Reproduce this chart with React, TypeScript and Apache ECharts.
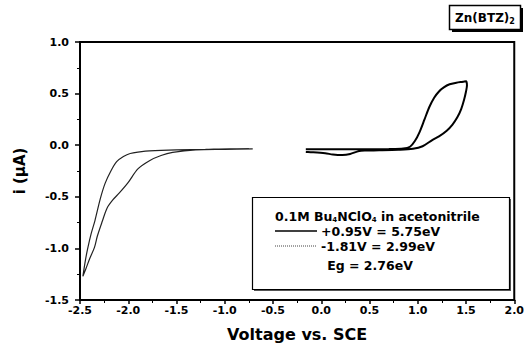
import React, { useEffect, useRef } from "react";
import * as echarts from "echarts";

// Reduction scan (V vs SCE, current in µA)
const reductionV = [-0.71, -1.0, -1.3, -1.54, -1.66, -1.78, -1.9, -2.0, -2.09, -2.16, -2.22, -2.27, -2.32, -2.35, -2.4, -2.44, -2.47, -2.445, -2.42, -2.385, -2.345, -2.29, -2.24, -2.18, -2.12, -2.05, -1.98, -1.88, -1.78, -1.5, -1.2, -0.95, -0.75];
const reductionI = [-0.035, -0.04, -0.045, -0.07, -0.1, -0.15, -0.23, -0.36, -0.46, -0.53, -0.61, -0.74, -0.88, -0.99, -1.1, -1.2, -1.27, -1.12, -1.0, -0.86, -0.73, -0.52, -0.37, -0.25, -0.16, -0.11, -0.08, -0.065, -0.055, -0.045, -0.04, -0.035, -0.035];

// Oxidation scan
const oxidationV = [-0.16, 0.1, 0.4, 0.7, 0.85, 0.92, 0.97, 1.02, 1.07, 1.12, 1.17, 1.22, 1.27, 1.33, 1.4, 1.47, 1.5, 1.51, 1.5, 1.48, 1.45, 1.41, 1.36, 1.3, 1.22, 1.15, 1.05, 0.95, 0.8, 0.6, 0.45, 0.38, 0.3, 0.22, 0.12, 0.04, -0.16];
const oxidationI = [-0.04, -0.04, -0.04, -0.038, -0.033, -0.015, 0.04, 0.13, 0.25, 0.37, 0.46, 0.52, 0.56, 0.59, 0.605, 0.615, 0.62, 0.58, 0.52, 0.44, 0.35, 0.27, 0.2, 0.14, 0.085, 0.05, -0.01, -0.035, -0.045, -0.05, -0.052, -0.06, -0.085, -0.095, -0.09, -0.078, -0.065];

// Axis ticks
const xMin = -2.5, xMax = 2.0, xStep = 0.5;
const yMin = -1.5, yMax = 1.0, yStep = 0.5;

const titleText = "Zn(BTZ){sub|2}";
const legendHeader = "0.1M Bu{sub|4}NClO{sub|4} in acetonitrile";
const legendOx = "+0.95V = 5.75eV";
const legendRed = "-1.81V = 2.99eV";
const legendGap = "Eg = 2.76eV";

const FONT = "DejaVu Sans";

export default function App() {
  const ref = useRef<HTMLDivElement>(null);
  useEffect(() => {
    if (!ref.current) return;
    const chart = echarts.init(ref.current, undefined, { renderer: "svg" });
    const pair = (xs: number[], ys: number[]) => xs.map((x, i) => [x, ys[i]]);
    const subStyle = { fontSize: 8, fontFamily: FONT, fontWeight: "bold", fill: "#000", padding: [7, 0, 0, 0] };
    chart.setOption({
      animation: false,
      backgroundColor: "#fff",
      grid: { left: 80, right: 12, top: 42, bottom: 48, show: true, borderColor: "#000", borderWidth: 2, backgroundColor: "transparent" },
      xAxis: {
        type: "value", min: xMin, max: xMax, interval: xStep,
        axisLine: { show: true, onZero: false, lineStyle: { color: "#000", width: 2 } },
        axisTick: { show: true, inside: false, length: 4, lineStyle: { color: "#000", width: 1.5 } },
        minorTick: { show: true, splitNumber: 2, length: 3, lineStyle: { color: "#000", width: 1 } },
        splitLine: { show: false },
        axisLabel: { color: "#000", fontFamily: FONT, fontWeight: "bold", fontSize: 11, margin: 5, formatter: (v: number) => v.toFixed(1) },
        name: "Voltage vs. SCE", nameLocation: "middle", nameGap: 26,
        nameTextStyle: { color: "#000", fontFamily: FONT, fontWeight: "bold", fontSize: 16 },
      },
      yAxis: {
        type: "value", min: yMin, max: yMax, interval: yStep,
        axisLine: { show: true, onZero: false, lineStyle: { color: "#000", width: 2 } },
        axisTick: { show: true, inside: false, length: 5, lineStyle: { color: "#000", width: 1.5 } },
        minorTick: { show: true, splitNumber: 2, length: 3, lineStyle: { color: "#000", width: 1 } },
        splitLine: { show: false },
        axisLabel: { color: "#000", fontFamily: FONT, fontWeight: "bold", fontSize: 11, margin: 11, formatter: (v: number) => v.toFixed(1) },
        name: "i (μA)", nameLocation: "middle", nameGap: 53, nameRotate: 90,
        nameTextStyle: { color: "#000", fontFamily: FONT, fontWeight: "bold", fontSize: 15 },
      },
      series: [
        {
          type: "line", data: pair(reductionV, reductionI), showSymbol: false, smooth: 0.3,
          lineStyle: { color: "#222", width: 1.2 },
        },
        {
          type: "line", data: pair(oxidationV, oxidationI), showSymbol: false, smooth: 0.3,
          lineStyle: { color: "#000", width: 2 },
        },
      ],
      graphic: [
        // title box with shadow
        { type: "rect", shape: { x: 452, y: 8, width: 71, height: 24 }, style: { fill: "#000" }, z: 10 },
        { type: "rect", shape: { x: 449.5, y: 5.5, width: 71, height: 24 }, style: { fill: "#fff", stroke: "#000", lineWidth: 1.5 }, z: 11 },
        {
          type: "text", x: 485, y: 18, z: 12,
          style: { text: titleText, font: `bold 12px '${FONT}'`, fill: "#000", align: "center", verticalAlign: "middle", rich: { sub: subStyle } },
        },
        // legend box
        { type: "rect", shape: { x: 254, y: 199, width: 257, height: 92 }, style: { fill: "#555" }, z: 10 },
        { type: "rect", shape: { x: 252.5, y: 197.5, width: 257, height: 92 }, style: { fill: "#fff", stroke: "#000", lineWidth: 1.2 }, z: 11 },
        {
          type: "text", x: 275, y: 216, z: 12,
          style: { text: legendHeader, font: `bold 12.5px '${FONT}'`, fill: "#000", align: "left", verticalAlign: "middle", rich: { sub: { ...subStyle, fontSize: 7 } } },
        },
        { type: "line", shape: { x1: 275, y1: 231, x2: 317, y2: 231 }, style: { stroke: "#000", lineWidth: 1.3 }, z: 12 },
        { type: "text", x: 321, y: 231, z: 12, style: { text: legendOx, font: `bold 12.5px '${FONT}'`, fill: "#000", align: "left", verticalAlign: "middle" } },
        { type: "line", shape: { x1: 275, y1: 246, x2: 317, y2: 246 }, style: { stroke: "#444", lineWidth: 1, lineDash: [1, 1] }, z: 12 },
        { type: "text", x: 321, y: 246, z: 12, style: { text: legendRed, font: `bold 12.5px '${FONT}'`, fill: "#000", align: "left", verticalAlign: "middle" } },
        { type: "text", x: 370, y: 265, z: 12, style: { text: legendGap, font: `bold 12.5px '${FONT}'`, fill: "#000", align: "center", verticalAlign: "middle" } },
      ],
    });
    return () => chart.dispose();
  }, []);
  return <div ref={ref} style={{ position: "fixed", left: 0, top: 0, width: 527, height: 348 }} />;
}
